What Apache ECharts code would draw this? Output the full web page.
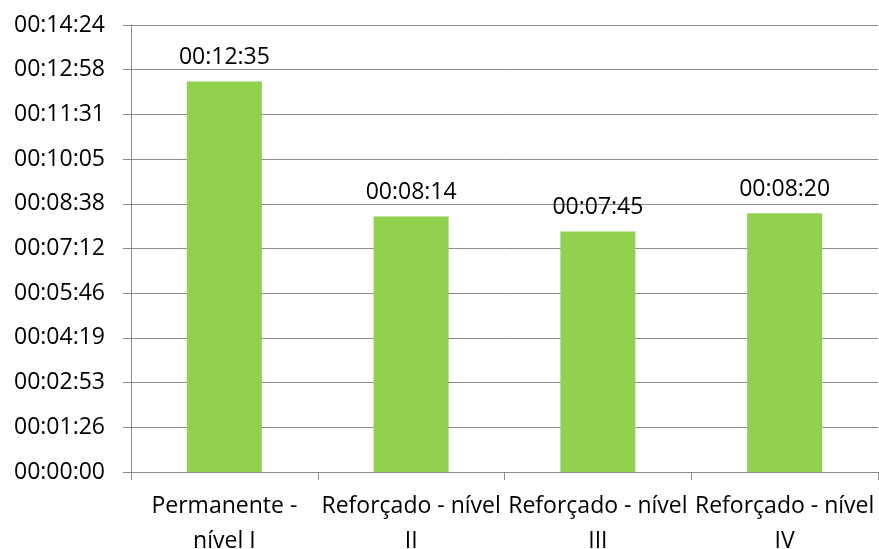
<!DOCTYPE html>
<html>
<head>
<meta charset="utf-8">
<script src="https://cdn.jsdelivr.net/npm/echarts@6/dist/echarts.min.js"></script>
<style>
  html, body { margin: 0; padding: 0; background: #fff; }
  #chart { width: 879px; height: 549px; }
</style>
</head>
<body>
<div id="chart"></div>
<script>
// Average duration per alert level, in seconds
const categories = ['Permanente -\nnível I', 'Reforçado - nível\nII', 'Reforçado - nível\nIII', 'Reforçado - nível\nIV'];
const durations = [755, 494, 465, 500]; // 00:12:35, 00:08:14, 00:07:45, 00:08:20
const valueLabels = ['00:12:35', '00:08:14', '00:07:45', '00:08:20'];
const yTickLabels = ['00:00:00', '00:01:26', '00:02:53', '00:04:19', '00:05:46', '00:07:12',
                     '00:08:38', '00:10:05', '00:11:31', '00:12:58', '00:14:24'];
const yStep = 86.4;   // one tenth of 00:14:24
const yMax = 864;

const font = 'Open Sans';
const chart = echarts.init(document.getElementById('chart'));
chart.setOption({
  animation: false,
  grid: {
    left: 131, right: 1, top: 25, bottom: 77,
    containLabel: false, outerBoundsMode: 'none'
  },
  xAxis: {
    type: 'category',
    data: categories,
    boundaryGap: true,
    axisLine: { lineStyle: { color: '#8c8c8c', width: 1 } },
    axisTick: { show: true, length: 8, lineStyle: { color: '#8c8c8c' } },
    axisLabel: {
      color: '#000', fontFamily: font, fontSize: 23, lineHeight: 35,
      margin: 17, interval: 0, hideOverlap: false
    }
  },
  yAxis: {
    type: 'value',
    min: 0, max: yMax, interval: yStep,
    axisLine: { show: true, lineStyle: { color: '#8c8c8c', width: 1 } },
    axisTick: { show: true, length: 8, lineStyle: { color: '#8c8c8c' } },
    splitLine: { show: true, lineStyle: { color: '#8c8c8c', width: 1 } },
    axisLabel: {
      color: '#000', fontFamily: font, fontSize: 23, margin: 26,
      formatter: v => yTickLabels[Math.round(v / yStep)]
    }
  },
  series: [{
    type: 'bar',
    data: durations,
    barWidth: 75,
    itemStyle: { color: '#92d050' },
    label: {
      show: true, position: 'top', distance: 12,
      color: '#000', fontFamily: font, fontSize: 23,
      formatter: p => valueLabels[p.dataIndex]
    }
  }]
});
</script>
</body>
</html>
